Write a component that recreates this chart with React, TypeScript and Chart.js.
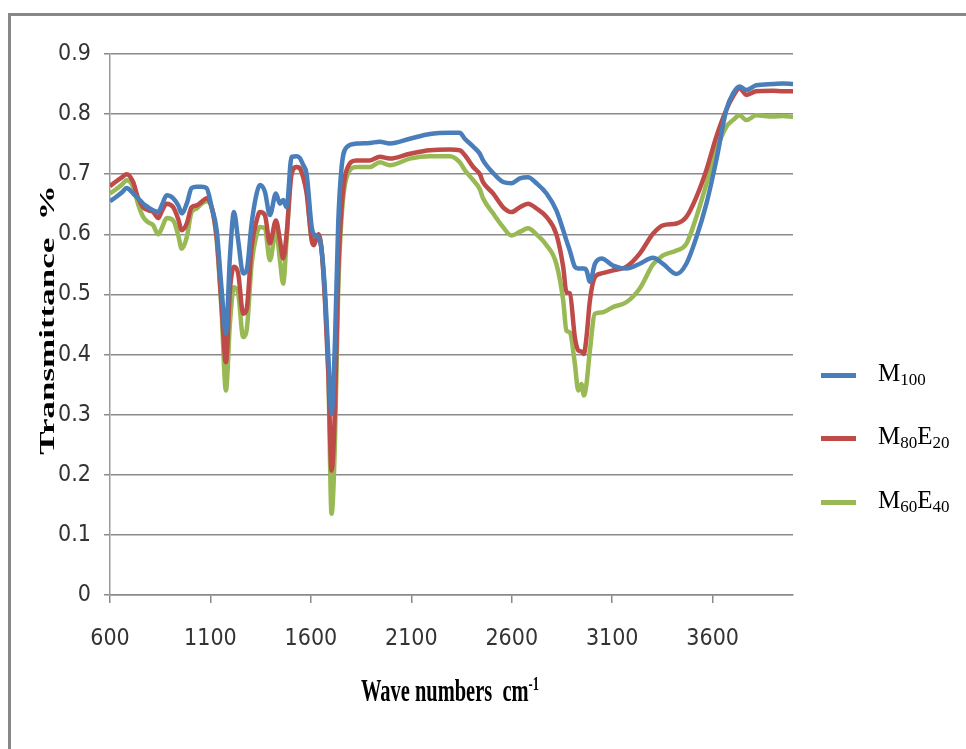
import React, { useEffect, useRef } from "react";
import { Chart, registerables } from "chart.js";

Chart.register(...registerables);

// Wave numbers (cm-1) shared by the three spectra
const wavenumbers = [
  600, 630, 660, 683, 715, 740, 765, 790, 815, 840, 860, 882, 915, 940, 957, 982,
  1006, 1031, 1056, 1081, 1106, 1131, 1156, 1177, 1197, 1217, 1238, 1263, 1280,
  1305, 1330, 1346, 1371, 1396, 1426, 1446, 1462, 1479, 1504, 1530, 1545, 1562,
  1579, 1604, 1615, 1637, 1653, 1670, 1687, 1703, 1720, 1736, 1753, 1778, 1828,
  1894, 1943, 1993, 2093, 2192, 2292, 2341, 2366, 2408, 2441, 2457, 2507, 2557,
  2598, 2640, 2681, 2723, 2773, 2822, 2856, 2872, 2889, 2914, 2931, 2947, 2959,
  2972, 2989, 3014, 3047, 3104, 3170, 3237, 3303, 3353, 3420, 3469, 3519, 3569,
  3618, 3668, 3701, 3734, 3768, 3817, 3900, 3950, 4000,
];

const m100 = [
  0.655, 0.662, 0.67, 0.677, 0.668, 0.66, 0.651, 0.645, 0.64, 0.637, 0.65, 0.665, 0.66, 0.648, 0.635, 0.651,
  0.677, 0.679, 0.679, 0.677, 0.645, 0.607, 0.507, 0.435, 0.562, 0.637, 0.59, 0.535, 0.54,
  0.618, 0.668, 0.682, 0.671, 0.632, 0.668, 0.651, 0.657, 0.645, 0.729, 0.73, 0.727, 0.715,
  0.7, 0.612, 0.6, 0.595, 0.575, 0.507, 0.396, 0.301, 0.423, 0.618, 0.712, 0.745, 0.751,
  0.752, 0.754, 0.751, 0.759, 0.767, 0.769, 0.769, 0.759, 0.746, 0.734, 0.723, 0.702, 0.687,
  0.685, 0.693, 0.695, 0.685, 0.668, 0.64, 0.607, 0.59, 0.573, 0.546, 0.543, 0.543, 0.543,
  0.54, 0.521, 0.551, 0.56, 0.548, 0.543, 0.551, 0.561, 0.551, 0.534, 0.551, 0.595, 0.651,
  0.723, 0.807, 0.834, 0.846, 0.84, 0.848, 0.85, 0.851, 0.85,
];

const m80e20 = [
  0.68, 0.688, 0.695, 0.7, 0.687, 0.66, 0.645, 0.64, 0.637, 0.627, 0.64, 0.651, 0.645, 0.625, 0.607, 0.618,
  0.645, 0.648, 0.654, 0.66, 0.645, 0.595, 0.479, 0.387, 0.507, 0.546, 0.535, 0.468, 0.475,
  0.579, 0.623, 0.637, 0.632, 0.585, 0.623, 0.59, 0.56, 0.6, 0.7, 0.712, 0.71, 0.695,
  0.668, 0.59, 0.582, 0.6, 0.575, 0.49, 0.368, 0.207, 0.312, 0.535, 0.645, 0.707, 0.723,
  0.723, 0.729, 0.726, 0.734, 0.74, 0.741, 0.74, 0.732, 0.712, 0.7, 0.687, 0.668, 0.645,
  0.637, 0.645, 0.651, 0.643, 0.629, 0.6, 0.546, 0.504, 0.502, 0.429, 0.407, 0.405, 0.401,
  0.429, 0.49, 0.529, 0.535, 0.54, 0.546, 0.568, 0.601, 0.615, 0.618, 0.629, 0.662, 0.707,
  0.762, 0.807, 0.829, 0.843, 0.832, 0.838, 0.839, 0.838, 0.838,
];

const m60e40 = [
  0.668, 0.675, 0.683, 0.69, 0.679, 0.65, 0.629, 0.62, 0.615, 0.6, 0.612, 0.627, 0.623, 0.598, 0.576, 0.595,
  0.637, 0.643, 0.651, 0.655, 0.645, 0.59, 0.468, 0.34, 0.452, 0.512, 0.502, 0.429, 0.44,
  0.551, 0.6, 0.612, 0.61, 0.557, 0.607, 0.557, 0.518, 0.59, 0.707, 0.712, 0.71, 0.695,
  0.673, 0.595, 0.592, 0.598, 0.575, 0.495, 0.368, 0.135, 0.257, 0.507, 0.629, 0.695, 0.712,
  0.712, 0.72, 0.715, 0.726, 0.73, 0.73, 0.72, 0.707, 0.69, 0.675, 0.66, 0.635, 0.612,
  0.598, 0.604, 0.61, 0.6, 0.582, 0.551, 0.49, 0.44, 0.437, 0.385, 0.34, 0.351, 0.332,
  0.351, 0.407, 0.468, 0.47, 0.479, 0.487, 0.51, 0.55, 0.565, 0.573, 0.584, 0.629, 0.684,
  0.74, 0.779, 0.79, 0.798, 0.79, 0.798, 0.796, 0.797, 0.795,
];

const xTickValues = [600, 1100, 1600, 2100, 2600, 3100, 3600];
const xTickLabels = ["600", "1100", "1600", "2100", "2600", "3100", "3600"];
const yTickValues = [0, 0.1, 0.2, 0.3, 0.4, 0.5, 0.6, 0.7, 0.8, 0.9];
const yTickLabels = ["0", "0.1", "0.2", "0.3", "0.4", "0.5", "0.6", "0.7", "0.8", "0.9"];

const seriesColors = ["#4a7ebb", "#be4b48", "#98b954"];
// legend: [main, sub, main, sub]
const legendParts = [
  ["M", "100"],
  ["M", "80", "E", "20"],
  ["M", "60", "E", "40"],
];
const xTitle = "Wave numbers  cm";
const xTitleSup = "-1";
const yTitle = "Transmittance  %";

const tickFont = { family: "'Liberation Sans Narrow', 'DejaVu Sans Condensed', 'Liberation Sans', sans-serif", size: 23 };

export default function App() {
  const ref = useRef<HTMLCanvasElement>(null);

  useEffect(() => {
    document.body.style.margin = "0";
    document.body.style.overflow = "hidden";
    const series = [m100, m80e20, m60e40];
    const chart = new Chart(ref.current as HTMLCanvasElement, {
      type: "line",
      data: {
        datasets: series.map((vals, k) => ({
          label: legendParts[k].join(""),
          data: wavenumbers.map((w, i) => ({ x: w, y: vals[i] })),
          borderColor: seriesColors[k],
          backgroundColor: seriesColors[k],
          borderWidth: 4.5,
          pointRadius: 0,
          cubicInterpolationMode: "monotone" as const,
          fill: false,
        })),
      },
      options: {
        animation: false,
        responsive: false,
        layout: { padding: { top: 54, right: 173, left: 0, bottom: 0 } },
        plugins: { legend: { display: false }, tooltip: { enabled: false } },
        scales: {
          x: {
            type: "linear",
            min: 600,
            max: 4000,
            afterBuildTicks: (s: any) => {
              s.ticks = xTickValues.map((v) => ({ value: v }));
            },
            afterFit: (s: any) => {
              s.height = 154;
            },
            grid: { drawOnChartArea: false, drawTicks: true, tickLength: 8, color: "#8a8a8a", lineWidth: 1.5 },
            border: { color: "#8a8a8a", width: 1.5 },
            ticks: {
              font: tickFont,
              color: "#333",
              padding: 22,
              maxRotation: 0,
              minRotation: 0,
              autoSkip: false,
              callback: (_v: any, i: number) => xTickLabels[i],
            },
          },
          y: {
            min: 0,
            max: 0.9,
            afterBuildTicks: (s: any) => {
              s.ticks = yTickValues.map((v) => ({ value: v }));
            },
            afterFit: (s: any) => {
              s.width = 110;
            },
            grid: { color: "#8a8a8a", lineWidth: 1.5, tickLength: 6 },
            border: { color: "#9a9a9a", width: 1.5 },
            ticks: {
              font: tickFont,
              color: "#333",
              padding: 13,
              autoSkip: false,
              callback: (_v: any, i: number) => yTickLabels[i],
            },
          },
        },
      },
    });
    return () => chart.destroy();
  }, []);

  const serif = "'Liberation Serif', 'Times New Roman', serif";

  return (
    <div style={{ position: "relative", width: 966, height: 749, overflow: "hidden", background: "#fff" }}>
      <canvas ref={ref} width={966} height={749} style={{ position: "absolute", left: 0, top: 0, display: "block" }} />
      <div
        style={{
          position: "absolute",
          left: 8,
          top: 13,
          width: 1000,
          height: 800,
          borderTop: "3px solid #888",
          borderLeft: "3px solid #888",
          pointerEvents: "none",
        }}
      />
      <div
        style={{
          position: "absolute",
          left: 47,
          top: 320,
          transform: "translate(-50%, -50%) rotate(-90deg) scaleX(1.75)",
          fontFamily: serif,
          fontWeight: "bold",
          fontSize: 20,
          whiteSpace: "pre",
          color: "#000",
          lineHeight: 1,
        }}
      >
        {yTitle}
      </div>
      <div
        style={{
          position: "absolute",
          left: 450,
          top: 690,
          transform: "translate(-50%, -50%) scaleX(0.66)",
          fontFamily: serif,
          fontWeight: "bold",
          fontSize: 31,
          whiteSpace: "pre",
          color: "#000",
          lineHeight: 1,
        }}
      >
        {xTitle}
        <span style={{ fontSize: 19, verticalAlign: "11px", lineHeight: 1 }}>{xTitleSup}</span>
      </div>
      {legendParts.map((parts, k) => {
        const cy = [375, 438, 502][k];
        return (
          <React.Fragment key={k}>
            <div
              style={{
                position: "absolute",
                left: 821,
                top: cy - 2.5,
                width: 35,
                height: 5,
                background: seriesColors[k],
              }}
            />
            <div
              style={{
                position: "absolute",
                left: 878,
                top: cy - 15,
                fontFamily: serif,
                fontSize: 25,
                lineHeight: 1,
                whiteSpace: "pre",
                color: "#000",
              }}
            >
              {parts.map((p, j) =>
                j % 2 === 0 ? (
                  <span key={j}>{p}</span>
                ) : (
                  <span key={j} style={{ fontSize: 17, verticalAlign: "-4px", lineHeight: 1 }}>
                    {p}
                  </span>
                )
              )}
            </div>
          </React.Fragment>
        );
      })}
    </div>
  );
}
